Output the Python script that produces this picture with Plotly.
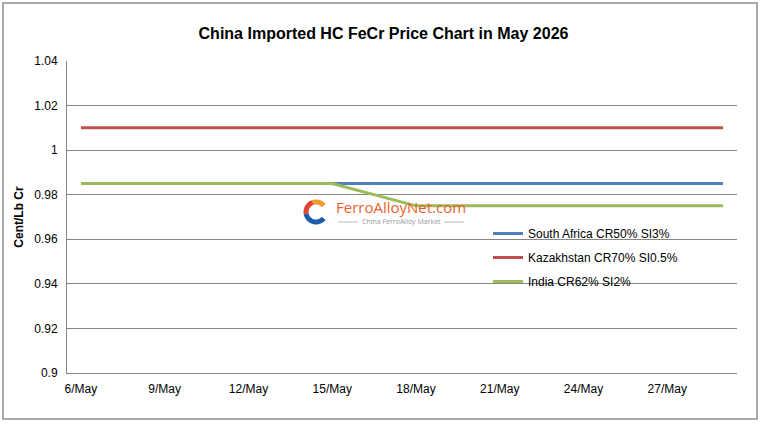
import numpy as np
import plotly.graph_objects as go

# ---- data ----
dates = [f"{d}/May" for d in range(6, 30)]
weekend = {9, 10, 16, 17, 23, 24}
days = list(range(6, 30))
south_africa = [None if d in weekend else 0.985 for d in days]
kazakhstan = [None if d in weekend else 1.01 for d in days]
india = [None if d in weekend else (0.985 if d <= 15 else 0.975) for d in days]
tick_labels = [f"{d}/May" for d in range(6, 30, 3)]
y_ticks = [0.9, 0.92, 0.94, 0.96, 0.98, 1.0, 1.02, 1.04]
y_tick_text = ["0.9", "0.92", "0.94", "0.96", "0.98", "1", "1.02", "1.04"]

W, H = 767, 426
ML, MR, MT, MB = 67, 30, 61, 53
PW, PH = W - ML - MR, H - MT - MB

def px(x):
    return (x - ML) / PW

def py(y):
    return (H - MB - y) / PH

fig = go.Figure()
series = [("South Africa CR50% SI3%", south_africa, "#4F81BD"),
          ("Kazakhstan CR70% SI0.5%", kazakhstan, "#C0504D"),
          ("India CR62% SI2%", india, "#9BBB59")]
for i, (name, vals, col) in enumerate(series):
    fig.add_trace(go.Scatter(x=dates, y=vals, name=name, mode="lines",
                             connectgaps=True, legendgroup=f"g{i}",
                             line=dict(color=col, width=3)))

shapes = []
# outer border
shapes.append(dict(type="rect", xref="paper", yref="paper",
                   x0=px(3), x1=px(757), y0=py(419), y1=py(3),
                   line=dict(color="#8C8C8C", width=1.5), layer="below"))

# watermark logo (approximate "C" ring)
cx, cy, r = 316, 212, 10
def arc(a0, a1):
    t = np.linspace(np.radians(a0), np.radians(a1), 30)
    pts = [(px(cx + r * np.cos(a)), py(cy - r * np.sin(a))) for a in t]
    return "M " + " L ".join(f"{x:.5f},{y:.5f}" for x, y in pts)

shapes.append(dict(type="path", xref="paper", yref="paper", path=arc(40, 110),
                   line=dict(color="#F39A2B", width=5)))
shapes.append(dict(type="path", xref="paper", yref="paper", path=arc(110, 190),
                   line=dict(color="#E2452F", width=5)))
shapes.append(dict(type="path", xref="paper", yref="paper", path=arc(190, 320),
                   line=dict(color="#1E5BA8", width=5)))
shapes.append(dict(type="line", xref="paper", yref="paper",
                   x0=px(338), x1=px(358), y0=py(222), y1=py(222),
                   line=dict(color="#BBBBBB", width=1)))
shapes.append(dict(type="line", xref="paper", yref="paper",
                   x0=px(444), x1=px(464), y0=py(222), y1=py(222),
                   line=dict(color="#BBBBBB", width=1)))

annotations = [
    dict(text="FerroAlloyNet.com", xref="paper", yref="paper",
         x=px(334), y=py(207), xanchor="left", yanchor="middle", showarrow=False,
         font=dict(family="Open Sans, Arial", size=15, color="#E8612C")),
    dict(text="China FerroAlloy Market", xref="paper", yref="paper",
         x=px(401), y=py(222), xanchor="center", yanchor="middle", showarrow=False,
         font=dict(family="Open Sans, Arial", size=7, color="#999999")),
]

fig.update_layout(
    width=W, height=H,
    margin=dict(l=ML, r=MR, t=MT, b=MB),
    paper_bgcolor="white", plot_bgcolor="white",
    font=dict(family="Liberation Sans, Arial", size=12, color="#000000"),
    title=dict(text="<b>China Imported HC FeCr Price Chart in May 2026</b>",
               x=0.5, xref="container", xanchor="center",
               y=1 - 33 / H, yref="container", yanchor="middle",
               font=dict(size=16, color="#000000")),
    xaxis=dict(type="category", tickmode="array", tickvals=tick_labels,
               ticktext=tick_labels, showgrid=False, showline=True,
               linecolor="#868686", linewidth=1, ticks="",
               ticklabelstandoff=5,
               tickfont=dict(size=12), range=[-0.5, len(dates) - 0.5]),
    yaxis=dict(range=[0.9, 1.04], tickmode="array", tickvals=y_ticks,
               ticktext=y_tick_text, showgrid=True, gridcolor="#868686",
               gridwidth=1, showline=True, linecolor="#868686", linewidth=1,
               zeroline=False, ticks="", tickfont=dict(size=12),
               ticklabelstandoff=6,
               title=dict(text="<b>Cent/Lb Cr</b>", font=dict(size=12), standoff=8)),
    legend=dict(x=px(488), y=py(219), xanchor="left", yanchor="top",
                bgcolor="rgba(0,0,0,0)", font=dict(size=12),
                traceorder="grouped", tracegroupgap=5),
    shapes=shapes,
    annotations=annotations,
    showlegend=True,
)

fig.write_html("out.html")
